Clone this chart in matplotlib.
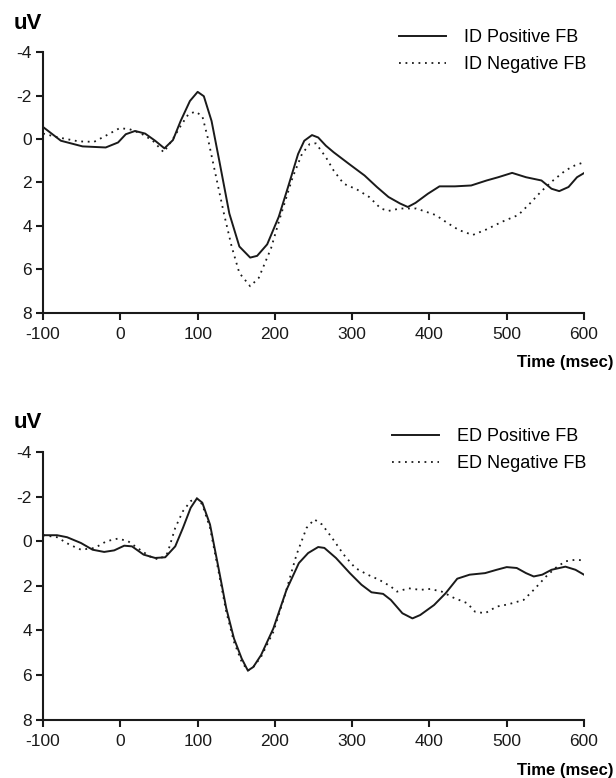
import matplotlib
matplotlib.use("Agg")
import matplotlib.pyplot as plt

plt.rcParams["font.family"] = ["Liberation Sans", "DejaVu Sans"]
plt.rcParams["axes.unicode_minus"] = False

# ID condition (top panel)
id_pos_t = [-100, -77, -49, -19, -3, 7, 19, 32, 45, 57, 68, 78, 90, 100, 108, 118, 128, 141, 154, 168,
            177, 190, 205, 217, 230, 238, 248, 256, 266, 276, 296, 316, 332, 347, 362, 372, 382, 398, 413, 433,
            454, 474, 489, 507, 525, 545, 558, 568, 580, 591, 600]
id_pos_v = [-0.55, 0.08, 0.34, 0.39, 0.16, -0.22, -0.37, -0.25, 0.08, 0.43, 0.05, -0.83, -1.75, -2.17, -1.97,
            -0.83, 1.0, 3.43, 4.95, 5.46, 5.38, 4.85, 3.58, 2.21, 0.69, 0.08, -0.18, -0.07, 0.31, 0.61,
            1.15, 1.68, 2.21, 2.67, 2.97, 3.13, 2.94, 2.52, 2.18, 2.18, 2.14, 1.91, 1.76, 1.56, 1.76, 1.91,
            2.29, 2.40, 2.21, 1.76, 1.57]
id_neg_t = [-100, -80, -54, -34, -19, -1, 12, 27, 42, 56, 68, 78, 88, 97, 106, 113, 123, 134, 144, 154,
            168, 179, 195, 207, 223, 235, 245, 253, 266, 276, 289, 306, 322, 337, 347, 362, 383, 408, 423, 438,
            456, 474, 494, 515, 530, 545, 560, 576, 588, 600]
id_neg_v = [-0.25, -0.07, 0.11, 0.13, -0.15, -0.5, -0.45, -0.25, 0.08, 0.61, 0.0, -0.6, -1.14, -1.26, -1.06,
            -0.07, 1.6, 3.43, 4.95, 6.17, 6.78, 6.4, 5.03, 3.58, 1.76, 0.69, 0.23, 0.2, 0.84, 1.45,
            2.06, 2.32, 2.67, 3.2, 3.31, 3.2, 3.2, 3.5, 3.86, 4.19, 4.42, 4.16, 3.81, 3.5, 2.97, 2.4,
            1.91, 1.45, 1.22, 1.07]

# ED condition (bottom panel)
ed_pos_t = [-100, -82, -69, -51, -36, -21, -8, 5, 15, 30, 45, 58, 71, 81, 91, 99, 106, 116, 127, 137,
            147, 157, 165, 172, 182, 198, 215, 231, 243, 256, 264, 279, 297, 312, 325, 340, 350, 365, 378, 388,
            406, 421, 436, 452, 472, 487, 500, 513, 525, 535, 546, 558, 576, 589, 600]
ed_pos_v = [-0.27, -0.27, -0.18, 0.08, 0.38, 0.48, 0.41, 0.2, 0.23, 0.6, 0.75, 0.72, 0.23, -0.6, -1.5,
            -1.92, -1.73, -0.75, 1.2, 3.0, 4.36, 5.26, 5.8, 5.64, 5.11, 3.91, 2.18, 0.98, 0.53, 0.26,
            0.3, 0.75, 1.43, 1.95, 2.29, 2.36, 2.63, 3.23, 3.46, 3.31, 2.86, 2.33, 1.68, 1.5, 1.43, 1.28,
            1.16, 1.2, 1.43, 1.58, 1.5, 1.28, 1.14, 1.28, 1.5]
ed_neg_t = [-100, -82, -66, -51, -33, -18, -3, 10, 22, 38, 50, 61, 71, 81, 91, 99, 106, 116, 127, 137,
            147, 157, 165, 172, 182, 198, 213, 228, 241, 251, 261, 274, 289, 304, 320, 335, 350, 358, 373, 388,
            401, 416, 431, 449, 459, 472, 487, 502, 522, 535, 551, 563, 576, 589, 600]
ed_neg_v = [-0.27, -0.18, 0.15, 0.38, 0.3, 0.0, -0.12, 0.0, 0.3, 0.68, 0.83, 0.53, -0.6, -1.35, -1.8,
            -1.92, -1.65, -0.6, 1.35, 3.16, 4.51, 5.41, 5.8, 5.64, 5.19, 4.06, 2.41, 0.6, -0.6, -0.98,
            -0.75, -0.15, 0.6, 1.2, 1.5, 1.73, 2.03, 2.26, 2.11, 2.18, 2.14, 2.26, 2.53, 2.78, 3.16, 3.23,
            2.93, 2.83, 2.63, 2.18, 1.58, 1.2, 0.9, 0.83, 0.86]

x_ticks = [-100, 0, 100, 200, 300, 400, 500, 600]
y_ticks = [-4, -2, 0, 2, 4, 6, 8]

panels = [
    (id_pos_t, id_pos_v, id_neg_t, id_neg_v, "ID Positive FB", "ID Negative FB"),
    (ed_pos_t, ed_pos_v, ed_neg_t, ed_neg_v, "ED Positive FB", "ED Negative FB"),
]

fig = plt.figure(figsize=(6.16, 7.78), dpi=100)
ax_top = fig.add_axes([0.070, 0.598, 0.878, 0.335])
ax_bot = fig.add_axes([0.070, 0.075, 0.878, 0.344])

for ax, (pt, pv, nt, nv, pos_label, neg_label) in zip([ax_top, ax_bot], panels):
    ax.plot(pt, pv, color="#1a1a1a", lw=1.4, label=pos_label)
    ax.plot(nt, nv, color="#1a1a1a", lw=1.3, linestyle=(0, (1, 2.6)), label=neg_label)

    ax.set_xlim(-100, 600)
    ax.set_ylim(8, -4)
    ax.set_xticks(x_ticks)
    ax.set_yticks(y_ticks)
    ax.spines["top"].set_visible(False)
    ax.spines["right"].set_visible(False)
    for side in ["left", "bottom"]:
        ax.spines[side].set_linewidth(1.5)
        ax.spines[side].set_color("#1a1a1a")
    ax.tick_params(direction="out", length=5, width=1.5, labelsize=12.5, colors="#1a1a1a")
    ax.tick_params(axis="x", pad=5)
    ax.tick_params(axis="y", pad=3)

    ax.legend(loc="upper right", bbox_to_anchor=(1.035, 1.15), frameon=False, fontsize=13,
              handlelength=2.6, handletextpad=1.0, labelspacing=0.55)

    ax.text(-0.055, 1.11, "uV", transform=ax.transAxes, fontsize=16, fontweight="bold",
            ha="left", va="center")
    ax.text(1.055, -0.19, "Time (msec)", transform=ax.transAxes, fontsize=12, fontweight="bold",
            ha="right", va="center")

fig.savefig("out.png", dpi=100)
